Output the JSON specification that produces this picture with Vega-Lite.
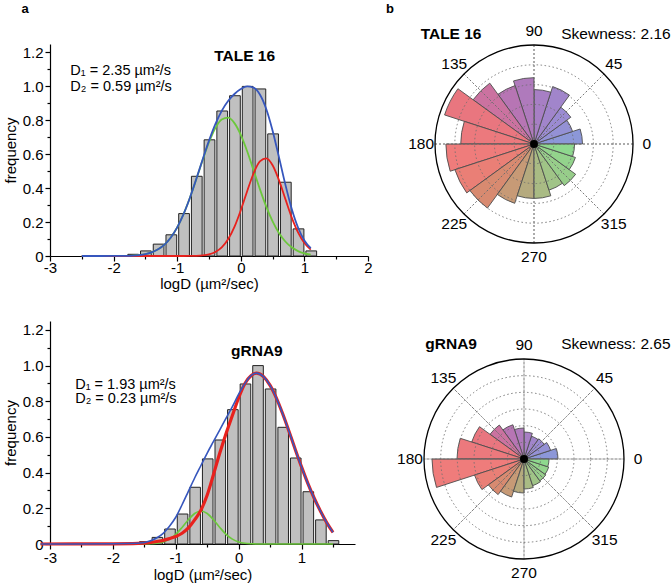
{
  "$schema": "https://vega.github.io/schema/vega-lite/v6.json",
  "background": "white",
  "padding": {"left": 3, "top": 2, "right": 0, "bottom": 0},
  "config": {
    "font": "Liberation Sans",
    "view": {"stroke": null},
    "bar": {"binSpacing": 2},
    "axis": {
      "labelFont": "Liberation Sans", "titleFont": "Liberation Sans",
      "labelFontSize": 15, "titleFontSize": 15, "titleFontWeight": "normal",
      "labelColor": "black", "titleColor": "black", "domainColor": "black", "tickColor": "black",
      "grid": false, "domainWidth": 1.2, "tickWidth": 1.2, "labelOverlap": false, "labelFlush": false
    },
    "text": {"font": "Liberation Sans"}
  },
  "datasets": {
    "top_bars": [
      {"lo": -1.8, "hi": -1.6, "f": 0.01}, {"lo": -1.6, "hi": -1.4, "f": 0.03},
      {"lo": -1.4, "hi": -1.2, "f": 0.07}, {"lo": -1.2, "hi": -1.0, "f": 0.125},
      {"lo": -1.0, "hi": -0.8, "f": 0.25}, {"lo": -0.8, "hi": -0.6, "f": 0.47},
      {"lo": -0.6, "hi": -0.4, "f": 0.685}, {"lo": -0.4, "hi": -0.2, "f": 0.855},
      {"lo": -0.2, "hi": 0.0, "f": 0.945}, {"lo": 0.0, "hi": 0.2, "f": 1.0},
      {"lo": 0.2, "hi": 0.4, "f": 0.985}, {"lo": 0.4, "hi": 0.6, "f": 0.72},
      {"lo": 0.6, "hi": 0.8, "f": 0.435}, {"lo": 0.8, "hi": 1.0, "f": 0.16},
      {"lo": 1.0, "hi": 1.2, "f": 0.03}
    ],
    "bot_bars": [
      {"lo": -1.6, "hi": -1.4, "f": 0.013}, {"lo": -1.4, "hi": -1.2, "f": 0.037},
      {"lo": -1.2, "hi": -1.0, "f": 0.084}, {"lo": -1.0, "hi": -0.8, "f": 0.168},
      {"lo": -0.8, "hi": -0.6, "f": 0.318}, {"lo": -0.6, "hi": -0.4, "f": 0.477},
      {"lo": -0.4, "hi": -0.2, "f": 0.583}, {"lo": -0.2, "hi": 0.0, "f": 0.753},
      {"lo": 0.0, "hi": 0.2, "f": 0.897}, {"lo": 0.2, "hi": 0.4, "f": 1.0},
      {"lo": 0.4, "hi": 0.6, "f": 0.869}, {"lo": 0.6, "hi": 0.8, "f": 0.654},
      {"lo": 0.8, "hi": 1.0, "f": 0.482}, {"lo": 1.0, "hi": 1.2, "f": 0.293},
      {"lo": 1.2, "hi": 1.4, "f": 0.135}, {"lo": 1.4, "hi": 1.6, "f": 0.019}
    ],
    "top_curves": [
      {"v": -2.5, "g": 0.0, "r": 0.0, "b": 0.0},
      {"v": -2.2, "g": 0.0, "r": 0.0, "b": 0.0},
      {"v": -2.0, "g": 0.0002, "r": 0.0, "b": 0.0002},
      {"v": -1.8, "g": 0.0012, "r": 0.0, "b": 0.0012},
      {"v": -1.6, "g": 0.0057, "r": 0.0, "b": 0.0057},
      {"v": -1.5, "g": 0.0114, "r": 0.0, "b": 0.0114},
      {"v": -1.4, "g": 0.0217, "r": 0.0, "b": 0.0217},
      {"v": -1.3, "g": 0.0393, "r": 0.0, "b": 0.0393},
      {"v": -1.2, "g": 0.0673, "r": 0.0, "b": 0.0673},
      {"v": -1.1, "g": 0.1095, "r": 0.0, "b": 0.1095},
      {"v": -1.0, "g": 0.1689, "r": 0.0, "b": 0.1689},
      {"v": -0.9, "g": 0.2472, "r": 0.0001, "b": 0.2473},
      {"v": -0.8, "g": 0.3433, "r": 0.0004, "b": 0.3437},
      {"v": -0.7, "g": 0.4524, "r": 0.0012, "b": 0.4536},
      {"v": -0.6, "g": 0.5654, "r": 0.0037, "b": 0.5691},
      {"v": -0.5, "g": 0.6705, "r": 0.0098, "b": 0.6803},
      {"v": -0.4, "g": 0.7544, "r": 0.0235, "b": 0.7779},
      {"v": -0.3, "g": 0.8053, "r": 0.0506, "b": 0.8559},
      {"v": -0.2, "g": 0.8155, "r": 0.0983, "b": 0.9138},
      {"v": -0.1, "g": 0.7836, "r": 0.1716, "b": 0.9552},
      {"v": 0.0, "g": 0.7142, "r": 0.2699, "b": 0.9841},
      {"v": 0.1, "g": 0.6177, "r": 0.3819, "b": 0.9996},
      {"v": 0.2, "g": 0.5068, "r": 0.4865, "b": 0.9933},
      {"v": 0.3, "g": 0.3945, "r": 0.5579, "b": 0.9524},
      {"v": 0.4, "g": 0.2913, "r": 0.5758, "b": 0.8671},
      {"v": 0.5, "g": 0.2041, "r": 0.5349, "b": 0.739},
      {"v": 0.6, "g": 0.1356, "r": 0.4472, "b": 0.5828},
      {"v": 0.7, "g": 0.0856, "r": 0.3366, "b": 0.4222},
      {"v": 0.8, "g": 0.0512, "r": 0.228, "b": 0.2792},
      {"v": 0.9, "g": 0.0291, "r": 0.139, "b": 0.1681},
      {"v": 1.0, "g": 0.0156, "r": 0.0763, "b": 0.0919},
      {"v": 1.1, "g": 0.008, "r": 0.0377, "b": 0.0457}
    ],
    "bot_curves": [
      {"v": -3.15, "g": 0.0, "r": 0.0, "b": 0.0},
      {"v": -2.0, "g": 0.0, "r": 0.001, "b": 0.001},
      {"v": -1.6, "g": 0.0, "r": 0.003, "b": 0.004},
      {"v": -1.4, "g": 0.0014, "r": 0.009, "b": 0.018},
      {"v": -1.3, "g": 0.0043, "r": 0.014, "b": 0.035},
      {"v": -1.2, "g": 0.0116, "r": 0.02, "b": 0.06},
      {"v": -1.1, "g": 0.027, "r": 0.03, "b": 0.1},
      {"v": -1.0, "g": 0.054, "r": 0.042, "b": 0.15},
      {"v": -0.9, "g": 0.093, "r": 0.06, "b": 0.22},
      {"v": -0.8, "g": 0.136, "r": 0.09, "b": 0.295},
      {"v": -0.7, "g": 0.171, "r": 0.135, "b": 0.37},
      {"v": -0.6, "g": 0.185, "r": 0.19, "b": 0.44},
      {"v": -0.5, "g": 0.171, "r": 0.275, "b": 0.51},
      {"v": -0.4, "g": 0.136, "r": 0.39, "b": 0.575},
      {"v": -0.3, "g": 0.093, "r": 0.51, "b": 0.64},
      {"v": -0.2, "g": 0.054, "r": 0.62, "b": 0.705},
      {"v": -0.1, "g": 0.027, "r": 0.72, "b": 0.77},
      {"v": 0.0, "g": 0.0116, "r": 0.82, "b": 0.84},
      {"v": 0.1, "g": 0.0043, "r": 0.9, "b": 0.9},
      {"v": 0.2, "g": 0.0014, "r": 0.945, "b": 0.945},
      {"v": 0.28, "g": 0.0004, "r": 0.958, "b": 0.958},
      {"v": 0.4, "g": 0.0, "r": 0.937, "b": 0.937},
      {"v": 0.5, "g": 0.0, "r": 0.889, "b": 0.889},
      {"v": 0.6, "g": 0.0, "r": 0.818, "b": 0.818},
      {"v": 0.7, "g": 0.0, "r": 0.73, "b": 0.73},
      {"v": 0.8, "g": 0.0, "r": 0.632, "b": 0.632},
      {"v": 0.9, "g": 0.0, "r": 0.53, "b": 0.53},
      {"v": 1.0, "g": 0.0, "r": 0.432, "b": 0.432},
      {"v": 1.1, "g": 0.0, "r": 0.34, "b": 0.34},
      {"v": 1.2, "g": 0.0, "r": 0.258, "b": 0.258},
      {"v": 1.3, "g": 0.0, "r": 0.185, "b": 0.185},
      {"v": 1.4, "g": 0.0, "r": 0.12, "b": 0.12},
      {"v": 1.5, "g": 0.0, "r": 0.065, "b": 0.065}
    ],
    "top_rose": [
      {"a0": 0, "a1": 18, "r": 49}, {"a0": 18, "a1": 36, "r": 41}, {"a0": 36, "a1": 54, "r": 46},
      {"a0": 54, "a1": 72, "r": 61}, {"a0": 72, "a1": 90, "r": 55}, {"a0": 90, "a1": 108, "r": 67},
      {"a0": 108, "a1": 126, "r": 62}, {"a0": 126, "a1": 144, "r": 76}, {"a0": 144, "a1": 162, "r": 95},
      {"a0": 162, "a1": 180, "r": 74}, {"a0": 180, "a1": 198, "r": 89}, {"a0": 198, "a1": 216, "r": 84},
      {"a0": 216, "a1": 234, "r": 80}, {"a0": 234, "a1": 252, "r": 63}, {"a0": 252, "a1": 270, "r": 55},
      {"a0": 270, "a1": 288, "r": 55}, {"a0": 288, "a1": 306, "r": 49}, {"a0": 306, "a1": 324, "r": 52},
      {"a0": 324, "a1": 342, "r": 44}, {"a0": 342, "a1": 360, "r": 41}
    ],
    "bot_rose": [
      {"a0": 0, "a1": 18, "r": 34}, {"a0": 18, "a1": 36, "r": 28}, {"a0": 36, "a1": 54, "r": 25},
      {"a0": 54, "a1": 72, "r": 24}, {"a0": 72, "a1": 90, "r": 27}, {"a0": 90, "a1": 108, "r": 31},
      {"a0": 108, "a1": 126, "r": 36}, {"a0": 126, "a1": 144, "r": 42}, {"a0": 144, "a1": 162, "r": 55},
      {"a0": 162, "a1": 180, "r": 67}, {"a0": 180, "a1": 198, "r": 92}, {"a0": 198, "a1": 216, "r": 52},
      {"a0": 216, "a1": 234, "r": 44}, {"a0": 234, "a1": 252, "r": 40}, {"a0": 252, "a1": 270, "r": 34},
      {"a0": 270, "a1": 288, "r": 30}, {"a0": 288, "a1": 306, "r": 28}, {"a0": 306, "a1": 324, "r": 27},
      {"a0": 324, "a1": 342, "r": 26}, {"a0": 342, "a1": 360, "r": 25}
    ],
    "angles": [
      {"a": 0}, {"a": 45}, {"a": 90}, {"a": 135}, {"a": 180}, {"a": 225}, {"a": 270}, {"a": 315}
    ],
    "top_rings": [{"r": 20}, {"r": 40}, {"r": 60}, {"r": 80}],
    "bot_rings": [{"r": 16.67}, {"r": 33.33}, {"r": 50}, {"r": 66.67}, {"r": 83.33}]
  },
  "bounds": "flush",
  "columns": 2,
  "spacing": {"row": 65, "column": 66},
  "concat": [
    {
      "width": 318,
      "height": 212,
      "resolve": {"axis": {"x": "independent", "y": "independent"}},
      "layer": [
        {
          "data": {"name": "top_bars"},
          "mark": {"type": "bar", "fill": "#c0c0c0", "stroke": "#222222", "strokeWidth": 1},
          "encoding": {
            "x": {
              "field": "lo", "type": "quantitative", "bin": "binned",
              "scale": {"domain": [-3, 2], "nice": false, "zero": false},
              "axis": {
                "orient": "bottom", "title": "logD (µm²/sec)",
                "values": [-3, -2, -1, 0, 1, 2],
                "labelExpr": "'' + datum.value",
                "tickSize": 5, "labelPadding": -1, "titlePadding": 1, "labelOverlap": false
              }
            },
            "x2": {"field": "hi"},
            "y": {
              "field": "f", "type": "quantitative",
              "scale": {"domain": [0, 1.25], "nice": false},
              "axis": {
                "orient": "left", "title": "frequency",
                "values": [0, 0.2, 0.4, 0.6, 0.8, 1.0, 1.2],
                "labelExpr": "datum.value == 0 ? '0' : format(datum.value, '.1f')",
                "tickSize": 5, "labelPadding": 2, "titlePadding": 4, "labelOverlap": false
              }
            }
          }
        },
        {
          "data": {"name": "top_curves"},
          "mark": {"type": "line", "color": "#6cc83c", "strokeWidth": 1.8, "interpolate": "monotone"},
          "encoding": {
            "x": {"field": "v", "type": "quantitative", "axis": null},
            "y": {"field": "g", "type": "quantitative", "axis": null}
          }
        },
        {
          "data": {"name": "top_curves"},
          "mark": {"type": "line", "color": "#e8211d", "strokeWidth": 1.8, "interpolate": "monotone"},
          "encoding": {
            "x": {"field": "v", "type": "quantitative", "axis": null},
            "y": {"field": "r", "type": "quantitative", "axis": null}
          }
        },
        {
          "data": {"name": "top_curves"},
          "mark": {"type": "line", "color": "#3656bd", "strokeWidth": 1.8, "interpolate": "monotone"},
          "encoding": {
            "x": {"field": "v", "type": "quantitative", "axis": {"orient": "bottom", "values": [-2.5, -1.5, -0.5, 0.5, 1.5], "labels": false, "domain": false, "tickSize": 3, "title": null}},
            "y": {"field": "b", "type": "quantitative", "axis": {"orient": "left", "values": [0.1, 0.3, 0.5, 0.7, 0.9, 1.1], "labels": false, "domain": false, "tickSize": 3, "title": null}}
          }
        },
        {
          "data": {"values": [{}]},
          "mark": {"type": "text", "text": "TALE 16", "fontWeight": "bold", "fontSize": 15.5, "align": "center", "baseline": "middle"},
          "encoding": {"x": {"datum": 0.06, "axis": null}, "y": {"datum": 1.18, "axis": null}}
        },
        {
          "data": {"values": [{}]},
          "mark": {"type": "text", "text": "D₁ = 2.35 µm²/s", "fontSize": 14.5, "align": "left", "baseline": "middle"},
          "encoding": {"x": {"datum": -2.68, "axis": null}, "y": {"datum": 1.09, "axis": null}}
        },
        {
          "data": {"values": [{}]},
          "mark": {"type": "text", "text": "D₂ = 0.59 µm²/s", "fontSize": 14.5, "align": "left", "baseline": "middle"},
          "encoding": {"x": {"datum": -2.68, "axis": null}, "y": {"datum": 0.997, "axis": null}}
        },
        {
          "data": {"values": [{}]},
          "mark": {"type": "text", "text": "a", "fontWeight": "bold", "fontSize": 13, "align": "center", "baseline": "middle"},
          "encoding": {"x": {"datum": -3.39, "axis": null}, "y": {"datum": 1.456, "axis": null}}
        }
      ]
    },
    {
      "width": 200,
      "height": 200,
      "layer": [
        {
          "data": {"name": "top_rose"},
          "mark": {"type": "arc", "stroke": "#4d4d4d", "strokeWidth": 0.9},
          "encoding": {
            "theta": {"field": "a0", "type": "quantitative", "stack": null, "scale": {"domain": [0, 360], "range": [1.5708, -4.7124]}},
            "theta2": {"field": "a1"},
            "radius": {"field": "r", "type": "quantitative", "stack": null, "scale": {"type": "linear", "domain": [0, 100], "range": [0, 99], "zero": true}},
            "fill": {
              "field": "a0", "type": "quantitative", "legend": null,
              "scale": {
                "domain": [0, 36, 72, 108, 126, 144, 180, 198, 216, 234, 252, 270, 306, 342],
                "range": ["#8c97d8", "#9b8bd2", "#a77fc4", "#b775b4", "#cb72a0", "#e9767f", "#ef7c7b", "#ea7f76", "#d88a70", "#c79a76", "#b5aa7e", "#a9bb84", "#97cd8a", "#8ed88e"],
                "interpolate": "rgb"
              }
            }
          }
        },
        {
          "data": {"name": "top_rings"},
          "mark": {"type": "arc", "filled": false, "stroke": "#6e6e6e", "strokeWidth": 0.9, "strokeDash": [1.5, 2.5]},
          "encoding": {
            "theta": {"datum": 0, "type": "quantitative"},
            "theta2": {"datum": 360},
            "radius": {"field": "r", "type": "quantitative", "stack": null}
          }
        },
        {
          "data": {"name": "angles"},
          "mark": {"type": "arc", "filled": false, "stroke": "#6e6e6e", "strokeWidth": 0.9, "strokeDash": [1.5, 2.5]},
          "encoding": {
            "theta": {"field": "a", "type": "quantitative", "stack": null},
            "theta2": {"field": "a"},
            "radius": {"datum": 100, "type": "quantitative"}
          }
        },
        {
          "data": {"values": [{}]},
          "mark": {"type": "arc", "filled": false, "stroke": "black", "strokeWidth": 1.3},
          "encoding": {
            "theta": {"datum": 0, "type": "quantitative"},
            "theta2": {"datum": 360},
            "radius": {"datum": 100, "type": "quantitative"}
          }
        },
        {
          "data": {"values": [{}]},
          "mark": {"type": "arc", "fill": "black"},
          "encoding": {
            "theta": {"datum": 0, "type": "quantitative"},
            "theta2": {"datum": 360},
            "radius": {"datum": 4, "type": "quantitative"}
          }
        },
        {
          "data": {"name": "angles"},
          "mark": {"type": "text", "fontSize": 15.5, "align": "center", "baseline": "middle"},
          "encoding": {
            "theta": {"field": "a", "type": "quantitative", "stack": null},
            "radius": {"datum": 114, "type": "quantitative"},
            "text": {"field": "a", "type": "nominal"}
          }
        },
        {
          "data": {"values": [{}]},
          "mark": {"type": "text", "text": "TALE 16", "fontWeight": "bold", "fontSize": 15.5, "align": "center", "baseline": "middle"},
          "encoding": {"theta": {"datum": 127, "type": "quantitative"}, "radius": {"datum": 139.2, "type": "quantitative"}}
        },
        {
          "data": {"values": [{}]},
          "mark": {"type": "text", "text": "Skewness: 2.16", "fontSize": 15.5, "align": "center", "baseline": "middle"},
          "encoding": {"theta": {"datum": 53.3, "type": "quantitative"}, "radius": {"datum": 138.6, "type": "quantitative"}}
        },
        {
          "data": {"values": [{}]},
          "mark": {"type": "text", "text": "b", "fontWeight": "bold", "fontSize": 13, "align": "center", "baseline": "middle"},
          "encoding": {"theta": {"datum": 136.85, "type": "quantitative"}, "radius": {"datum": 199.4, "type": "quantitative"}}
        }
      ]
    },
    {
      "width": 305,
      "height": 223,
      "resolve": {"axis": {"x": "independent", "y": "independent"}},
      "layer": [
        {
          "data": {"name": "bot_bars"},
          "mark": {"type": "bar", "fill": "#c0c0c0", "stroke": "#222222", "strokeWidth": 1},
          "encoding": {
            "x": {
              "field": "lo", "type": "quantitative", "bin": "binned",
              "scale": {"domain": [-3, 1.85], "nice": false, "zero": false},
              "axis": {
                "orient": "bottom", "title": "logD (µm²/sec)",
                "values": [-3, -2, -1, 0, 1],
                "labelExpr": "'' + datum.value",
                "tickSize": 5, "labelPadding": 1, "titlePadding": 2, "labelOverlap": false
              }
            },
            "x2": {"field": "hi"},
            "y": {
              "field": "f", "type": "quantitative",
              "scale": {"domain": [0, 1.25], "nice": false},
              "axis": {
                "orient": "left", "title": "frequency",
                "values": [0, 0.2, 0.4, 0.6, 0.8, 1.0, 1.2],
                "labelExpr": "datum.value == 0 ? '0' : format(datum.value, '.1f')",
                "tickSize": 5, "labelPadding": 2, "titlePadding": 4, "labelOverlap": false
              }
            }
          }
        },
        {
          "data": {"name": "bot_curves"},
          "mark": {"type": "line", "color": "#6cc83c", "strokeWidth": 1.6, "interpolate": "monotone"},
          "encoding": {
            "x": {"field": "v", "type": "quantitative", "axis": null},
            "y": {"field": "g", "type": "quantitative", "axis": null}
          }
        },
        {
          "data": {"name": "bot_curves"},
          "mark": {"type": "line", "color": "#e8211d", "strokeWidth": 3.2, "interpolate": "monotone"},
          "encoding": {
            "x": {"field": "v", "type": "quantitative", "axis": null},
            "y": {"field": "r", "type": "quantitative", "axis": null}
          }
        },
        {
          "data": {"name": "bot_curves"},
          "mark": {"type": "line", "color": "#3656bd", "strokeWidth": 1.6, "interpolate": "monotone"},
          "encoding": {
            "x": {"field": "v", "type": "quantitative", "axis": {"orient": "bottom", "values": [-2.5, -1.5, -0.5, 0.5, 1.5], "labels": false, "domain": false, "tickSize": 3, "title": null}},
            "y": {"field": "b", "type": "quantitative", "axis": {"orient": "left", "values": [0.1, 0.3, 0.5, 0.7, 0.9, 1.1], "labels": false, "domain": false, "tickSize": 3, "title": null}}
          }
        },
        {
          "data": {"values": [{}]},
          "mark": {"type": "text", "text": "gRNA9", "fontWeight": "bold", "fontSize": 15.5, "align": "center", "baseline": "middle"},
          "encoding": {"x": {"datum": 0.29, "axis": null}, "y": {"datum": 1.084, "axis": null}}
        },
        {
          "data": {"values": [{}]},
          "mark": {"type": "text", "text": "D₁ = 1.93 µm²/s", "fontSize": 14.5, "align": "left", "baseline": "middle"},
          "encoding": {"x": {"datum": -2.6, "axis": null}, "y": {"datum": 0.893, "axis": null}}
        },
        {
          "data": {"values": [{}]},
          "mark": {"type": "text", "text": "D₂ = 0.23 µm²/s", "fontSize": 14.5, "align": "left", "baseline": "middle"},
          "encoding": {"x": {"datum": -2.6, "axis": null}, "y": {"datum": 0.81, "axis": null}}
        }
      ]
    },
    {
      "width": 180,
      "height": 276,
      "layer": [
        {
          "data": {"name": "bot_rose"},
          "mark": {"type": "arc", "stroke": "#4d4d4d", "strokeWidth": 0.9},
          "encoding": {
            "theta": {"field": "a0", "type": "quantitative", "stack": null, "scale": {"domain": [0, 360], "range": [1.5708, -4.7124]}},
            "theta2": {"field": "a1"},
            "radius": {"field": "r", "type": "quantitative", "stack": null, "scale": {"type": "linear", "domain": [0, 100], "range": [0, 100], "zero": true}},
            "fill": {
              "field": "a0", "type": "quantitative", "legend": null,
              "scale": {
                "domain": [0, 36, 72, 108, 126, 144, 180, 198, 216, 234, 252, 270, 306, 342],
                "range": ["#8c97d8", "#9b8bd2", "#a77fc4", "#b775b4", "#cb72a0", "#e9767f", "#ef7c7b", "#ea7f76", "#d88a70", "#c79a76", "#b5aa7e", "#a9bb84", "#97cd8a", "#8ed88e"],
                "interpolate": "rgb"
              }
            }
          }
        },
        {
          "data": {"name": "bot_rings"},
          "mark": {"type": "arc", "filled": false, "stroke": "#6e6e6e", "strokeWidth": 0.9, "strokeDash": [1.5, 2.5]},
          "encoding": {
            "theta": {"datum": 0, "type": "quantitative"},
            "theta2": {"datum": 360},
            "radius": {"field": "r", "type": "quantitative", "stack": null}
          }
        },
        {
          "data": {"name": "angles"},
          "mark": {"type": "arc", "filled": false, "stroke": "#6e6e6e", "strokeWidth": 0.9, "strokeDash": [1.5, 2.5]},
          "encoding": {
            "theta": {"field": "a", "type": "quantitative", "stack": null},
            "theta2": {"field": "a"},
            "radius": {"datum": 100, "type": "quantitative"}
          }
        },
        {
          "data": {"values": [{}]},
          "mark": {"type": "arc", "filled": false, "stroke": "black", "strokeWidth": 1.3},
          "encoding": {
            "theta": {"datum": 0, "type": "quantitative"},
            "theta2": {"datum": 360},
            "radius": {"datum": 100, "type": "quantitative"}
          }
        },
        {
          "data": {"values": [{}]},
          "mark": {"type": "arc", "fill": "black"},
          "encoding": {
            "theta": {"datum": 0, "type": "quantitative"},
            "theta2": {"datum": 360},
            "radius": {"datum": 4, "type": "quantitative"}
          }
        },
        {
          "data": {"name": "angles"},
          "mark": {"type": "text", "fontSize": 15.5, "align": "center", "baseline": "middle"},
          "encoding": {
            "theta": {"field": "a", "type": "quantitative", "stack": null},
            "radius": {"datum": 114, "type": "quantitative"},
            "text": {"field": "a", "type": "nominal"}
          }
        },
        {
          "data": {"values": [{}]},
          "mark": {"type": "text", "text": "gRNA9", "fontWeight": "bold", "fontSize": 15.5, "align": "center", "baseline": "middle"},
          "encoding": {"theta": {"datum": 122.4, "type": "quantitative"}, "radius": {"datum": 136, "type": "quantitative"}}
        },
        {
          "data": {"values": [{}]},
          "mark": {"type": "text", "text": "Skewness: 2.65", "fontSize": 15.5, "align": "center", "baseline": "middle"},
          "encoding": {"theta": {"datum": 51.3, "type": "quantitative"}, "radius": {"datum": 147, "type": "quantitative"}}
        }
      ]
    }
  ]
}
